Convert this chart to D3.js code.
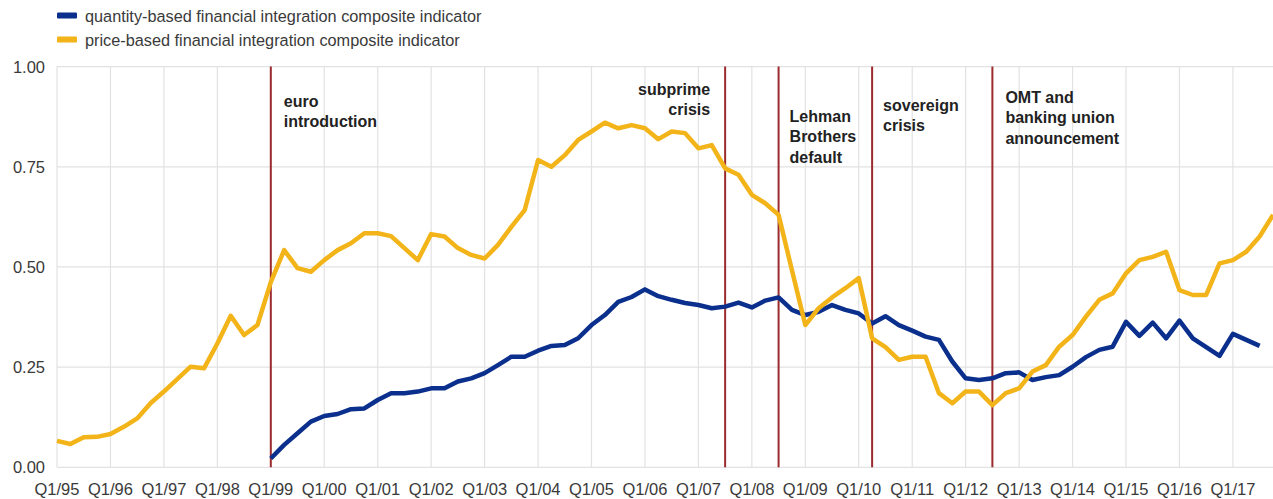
<!DOCTYPE html>
<html>
<head>
<meta charset="utf-8">
<script src="https://cdn.jsdelivr.net/npm/d3@7"></script>
<style>
  html, body { margin: 0; padding: 0; background: #fff; }
  svg { display: block; font-family: "Liberation Sans", Arial, sans-serif; }
</style>
</head>
<body>
<svg id="chart" width="1273" height="499"></svg>
<script>
// ---------- DATA ----------
const years = d3.range(1995, 2018);
const quarters = [];
years.forEach(y => { for (let q = 1; q <= 4; q++) quarters.push("Q" + q + "/" + String(y).slice(2)); });

const tickLabels = ["Q1/95","Q1/96","Q1/97","Q1/98","Q1/99","Q1/00","Q1/01","Q1/02","Q1/03","Q1/04","Q1/05",
  "Q1/06","Q1/07","Q1/08","Q1/09","Q1/10","Q1/11","Q1/12","Q1/13","Q1/14","Q1/15","Q1/16","Q1/17"];
const yTicks = [0, 0.25, 0.5, 0.75, 1.0];

// price-based indicator, Q1/95 .. Q4/17
const priceValues = [
  0.066, 0.058, 0.075, 0.076, 0.083, 0.101, 0.122, 0.160, 0.189, 0.220, 0.251, 0.247, 0.309, 0.378, 0.330, 0.355,
  0.462, 0.542, 0.497, 0.488, 0.517, 0.542, 0.559, 0.584, 0.584, 0.577, 0.547, 0.517, 0.582, 0.576, 0.547, 0.530,
  0.521, 0.555, 0.600, 0.642, 0.767, 0.750, 0.779, 0.817, 0.838, 0.860, 0.846, 0.854, 0.846, 0.819, 0.838, 0.834,
  0.796, 0.804, 0.746, 0.730, 0.680, 0.659, 0.630, 0.492, 0.355, 0.397, 0.424, 0.447, 0.472, 0.322, 0.300, 0.268,
  0.276, 0.276, 0.185, 0.160, 0.189, 0.189, 0.155, 0.185, 0.197, 0.239, 0.255, 0.301, 0.330, 0.376, 0.418, 0.434,
  0.484, 0.517, 0.525, 0.538, 0.442, 0.430, 0.430, 0.509, 0.517, 0.538, 0.576, 0.630
];
// quantity-based indicator, Q1/99 .. Q3/17
const quantityStart = "Q1/99";
const quantityValues = [
  0.022, 0.056, 0.085, 0.114, 0.128, 0.133, 0.145, 0.147, 0.168, 0.185, 0.185, 0.189, 0.197, 0.197, 0.214, 0.222,
  0.235, 0.255, 0.276, 0.276, 0.291, 0.303, 0.305, 0.322, 0.355, 0.380, 0.413, 0.425, 0.444, 0.427, 0.418, 0.410,
  0.405, 0.397, 0.401, 0.411, 0.399, 0.416, 0.424, 0.393, 0.380, 0.388, 0.405, 0.393, 0.384, 0.359, 0.377, 0.355,
  0.341, 0.326, 0.318, 0.264, 0.222, 0.218, 0.222, 0.235, 0.237, 0.218, 0.225, 0.230, 0.251, 0.275, 0.293, 0.301,
  0.363, 0.328, 0.361, 0.322, 0.366, 0.322, 0.300, 0.278, 0.333, 0.318, 0.303
];

const seriesNames = ["quantity-based financial integration composite indicator",
                     "price-based financial integration composite indicator"];

const eventQuarters = ["Q1/99", "Q3/07", "Q3/08", "Q2/10", "Q3/12"];
const eventLabels = [
  ["euro", "introduction"],
  ["subprime", "crisis"],
  ["Lehman", "Brothers", "default"],
  ["sovereign", "crisis"],
  ["OMT and", "banking union", "announcement"]
];

// ---------- LAYOUT / STYLE ----------
const colors = { quantity: "#0b2f8c", price: "#f2b418", event: "#9c2b2e", grid: "#e2e2e2", text: "#3a3a3a" };
const eventLabelLayout = [
  { dx: 13, anchor: "start", y0: 101 },
  { dx: -15, anchor: "end", y0: 89 },
  { dx: 11, anchor: "start", y0: 116 },
  { dx: 11, anchor: "start", y0: 105 },
  { dx: 13, anchor: "start", y0: 97 }
];

const svg = d3.select("#chart");
const x = d3.scalePoint().domain(quarters).range([57, 1273]).padding(0);
const y = d3.scaleLinear().domain([0, 1]).range([467.3, 66.6]);

function stext(g, tx, ty, str, opts) {
  return g.append("text")
    .attr("x", tx).attr("y", ty)
    .attr("text-anchor", opts.anchor || "start")
    .attr("dominant-baseline", "central")
    .attr("font-size", opts.size || 16)
    .attr("font-weight", opts.weight || "normal")
    .attr("fill", opts.fill || colors.text)
    .text(str);
}

// gridlines
const grid = svg.append("g");
grid.selectAll("line.h").data(yTicks).join("line")
  .attr("x1", 57).attr("x2", 1273)
  .attr("y1", d => y(d)).attr("y2", d => y(d))
  .attr("stroke", colors.grid).attr("stroke-width", 1.2);
grid.selectAll("line.v").data(tickLabels).join("line")
  .attr("x1", d => x(d)).attr("x2", d => x(d))
  .attr("y1", y(1)).attr("y2", y(0))
  .attr("stroke", colors.grid).attr("stroke-width", 1.2);

// axes labels
const axisG = svg.append("g");
yTicks.forEach(t => stext(axisG, 45, y(t), d3.format(".2f")(t), { anchor: "end", size: 16.5 }));
tickLabels.forEach(t => stext(axisG, x(t), 489, t, { anchor: "middle", size: 16.5 }));

// event lines
const evG = svg.append("g");
evG.selectAll("line").data(eventQuarters).join("line")
  .attr("x1", d => x(d)).attr("x2", d => x(d))
  .attr("y1", y(1)).attr("y2", y(0))
  .attr("stroke", colors.event).attr("stroke-width", 2);
eventQuarters.forEach((q, i) => {
  const L = eventLabelLayout[i];
  eventLabels[i].forEach((line, j) => {
    stext(evG, x(q) + L.dx, L.y0 + j * 20.5, line, { anchor: L.anchor, size: 16, weight: "bold", fill: "#222" });
  });
});

// series lines
const priceData = priceValues.map((v, i) => ({ q: quarters[i], v }));
const qi = quarters.indexOf(quantityStart);
const quantityData = quantityValues.map((v, i) => ({ q: quarters[qi + i], v }));
const line = d3.line().x(d => x(d.q)).y(d => y(d.v));

svg.append("path").datum(quantityData)
  .attr("d", line).attr("fill", "none")
  .attr("stroke", colors.quantity).attr("stroke-width", 4.5)
  .attr("stroke-linejoin", "round").attr("stroke-linecap", "butt");
svg.append("path").datum(priceData)
  .attr("d", line).attr("fill", "none")
  .attr("stroke", colors.price).attr("stroke-width", 4.5)
  .attr("stroke-linejoin", "round").attr("stroke-linecap", "butt");

// legend
const leg = svg.append("g");
const legColors = [colors.quantity, colors.price];
const legY = [15.5, 39.5];
seriesNames.forEach((n, i) => {
  leg.append("rect").attr("x", 57).attr("y", legY[i] - 3).attr("width", 20).attr("height", 6)
    .attr("rx", 1).attr("fill", legColors[i]);
  stext(leg, 85, legY[i], n, { anchor: "start", size: 16.3 });
});
</script>
</body>
</html>
